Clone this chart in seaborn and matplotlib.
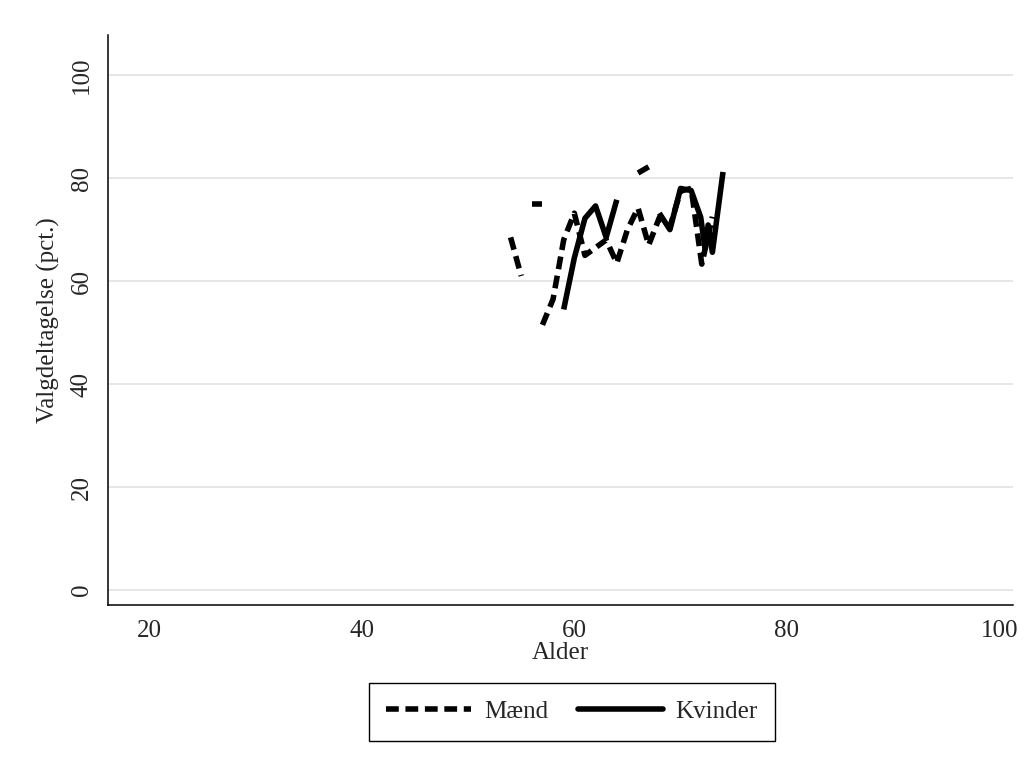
import numpy as np
import pandas as pd
import matplotlib
matplotlib.use("Agg")
import matplotlib.pyplot as plt
import seaborn as sns
from matplotlib.lines import Line2D

# ---- data ----
# Mænd (dashed), several separate segments
maend_seg = [1, 1, 2, 2,
             3, 3, 3, 3, 3, 3, 3, 3, 3, 3, 3, 3, 3, 3, 3, 3, 3,
             4, 4]
maend_alder = [54, 55, 56, 57,
               57, 58, 59, 60, 61, 62, 63, 64, 65, 66, 67, 68, 69, 70, 71, 72, 73,
               66, 67]
maend_pct = [68.5, 61.0, 75.0, 75.0,
             51.5, 56.5, 68.0, 73.2, 65.0, 66.5, 68.0, 63.5, 70.0, 74.2, 67.0, 72.3, 70.5, 77.5, 78.0, 63.3, 72.5,
             81.0, 82.2]

# Kvinder (solid)
kvinder_seg = [1, 1, 1, 1, 1, 1,
               2, 2, 2, 2, 2, 2, 2, 2, 2]
kvinder_alder = [59, 60, 61, 62, 63, 64,
                 68, 69, 70, 71, 71.9, 72.3, 72.6, 73.0, 74.0]
kvinder_pct = [54.5, 64.5, 72.2, 74.6, 68.5, 75.8,
               73.2, 70.0, 78.0, 77.6, 72.4, 66.4, 70.9, 65.6, 81.2]

labels = ["Mænd", "Kvinder"]
x_ticks = [20, 40, 60, 80, 100]
y_ticks = [0, 20, 40, 60, 80, 100]

df = pd.concat([
    pd.DataFrame({"Alder": maend_alder, "pct": maend_pct, "seg": [f"m{s}" for s in maend_seg], "Køn": labels[0]}),
    pd.DataFrame({"Alder": kvinder_alder, "pct": kvinder_pct, "seg": [f"k{s}" for s in kvinder_seg], "Køn": labels[1]}),
], ignore_index=True)

sns.set_theme(style="white")
plt.rcParams["font.family"] = ["Liberation Serif", "DejaVu Serif"]
plt.rcParams["lines.dash_capstyle"] = "butt"

LW = 4.0
DASH = (2.3, 1.2)

fig = plt.figure(figsize=(10.27, 7.71), dpi=100)
ax = fig.add_axes([108 / 1027, 1 - 605 / 771, (1013 - 108) / 1027, (605 - 35) / 771])

sns.lineplot(data=df, x="Alder", y="pct", hue="Køn", style="Køn", units="seg",
             estimator=None, sort=False, ax=ax,
             palette={labels[0]: "black", labels[1]: "black"},
             dashes={labels[0]: DASH, labels[1]: ""},
             linewidth=LW, legend=False)
for ln in ax.get_lines():
    ln.set_solid_joinstyle("round")
    ln.set_solid_capstyle("butt")

ax.set_xlim(16.1, 101.3)
ax.set_ylim(-2.9, 107.8)
ax.set_xticks(x_ticks)
ax.set_yticks(y_ticks)
ax.set_xticklabels([str(v) for v in x_ticks], fontsize=18)
ax.set_yticklabels([str(v) for v in y_ticks], fontsize=18, rotation=90, va="center")
ax.yaxis.grid(True, color="#e6e6e6", linewidth=1.4)
ax.xaxis.grid(False)
ax.set_axisbelow(True)
for side in ["top", "right"]:
    ax.spines[side].set_visible(False)
for side in ["left", "bottom"]:
    ax.spines[side].set_color("black")
    ax.spines[side].set_linewidth(1.1)
ax.tick_params(axis="both", direction="out", length=7, width=1.1, color="black", pad=4)
ax.set_xlabel("Alder", fontsize=18, labelpad=0)
ax.set_ylabel("Valgdeltagelse (pct.)", fontsize=18, labelpad=8)

handles = [Line2D([], [], color="black", lw=LW, dashes=DASH, dash_capstyle="butt"),
           Line2D([], [], color="black", lw=LW)]
leg = fig.legend(handles, labels, loc="upper center", bbox_to_anchor=(572 / 1027, 1 - 683 / 771),
                 ncol=2, fontsize=18, frameon=True, fancybox=False, edgecolor="black",
                 framealpha=1, handlelength=3.4, handletextpad=0.5, columnspacing=1.2,
                 borderpad=0.7, borderaxespad=0)
leg.get_frame().set_linewidth(1.0)

fig.savefig("out.png", dpi=100, facecolor="white")
